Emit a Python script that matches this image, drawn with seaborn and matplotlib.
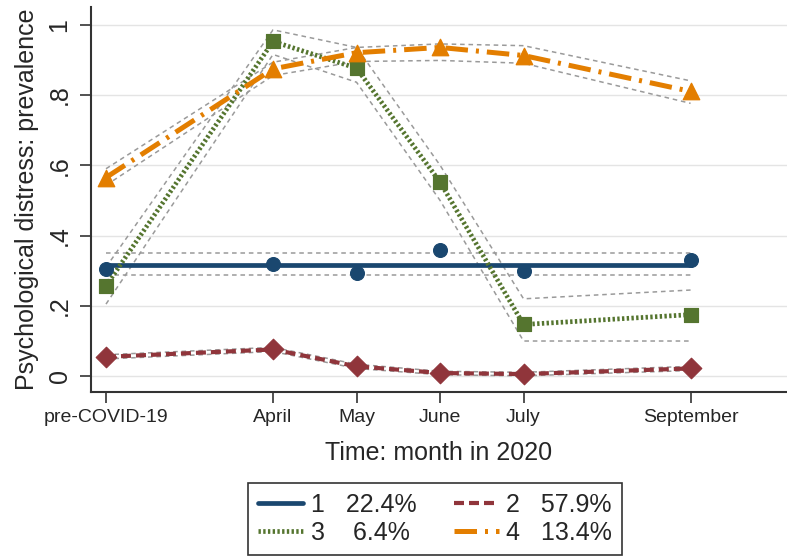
import matplotlib
matplotlib.use("Agg")
import matplotlib.pyplot as plt
import seaborn as sns
import pandas as pd
from matplotlib.lines import Line2D

# ---- data ----
months = ["pre-COVID-19", "April", "May", "June", "July", "September"]
month_pos = [2, 4, 5, 6, 7, 9]

c1_obs = [0.306, 0.318, 0.293, 0.360, 0.298, 0.331]
c1_fit = [0.317, 0.317, 0.317, 0.317, 0.317, 0.317]
c1_lo = [0.287, 0.287, 0.287, 0.287, 0.287, 0.287]
c1_hi = [0.349, 0.349, 0.349, 0.349, 0.349, 0.349]

c2 = [0.055, 0.076, 0.028, 0.009, 0.006, 0.022]
c2_lo = [0.049, 0.070, 0.022, 0.004, 0.001, 0.016]
c2_hi = [0.061, 0.082, 0.034, 0.014, 0.011, 0.028]

c3 = [0.257, 0.952, 0.876, 0.552, 0.147, 0.175]
c3_lo = [0.205, 0.915, 0.836, 0.500, 0.100, 0.100]
c3_hi = [0.310, 0.985, 0.935, 0.600, 0.220, 0.245]

c4 = [0.565, 0.874, 0.920, 0.935, 0.912, 0.810]
c4_lo = [0.543, 0.855, 0.895, 0.898, 0.890, 0.776]
c4_hi = [0.590, 0.893, 0.935, 0.945, 0.940, 0.840]

legend_labels = ["1   22.4%", "2   57.9%", "3    6.4%", "4   13.4%"]
y_ticks = [0, 0.2, 0.4, 0.6, 0.8, 1.0]
y_ticklabels = ["0", ".2", ".4", ".6", ".8", "1"]

# ---- style ----
sns.set_theme(style="white")
plt.rcParams["font.family"] = ["Liberation Sans", "DejaVu Sans"]

navy = "#1a476f"
maroon = "#90353b"
green = "#55752f"
orange = "#e37e00"
gray = "#9a9a9a"

fig = plt.figure(figsize=(7.87, 5.60), dpi=100)
ax = fig.add_axes([0.1156, 0.30, 0.9995 - 0.1156, 0.6875])

ci_style = dict(color=gray, linewidth=1.1, linestyle=(0, (3, 2.5)), errorbar=None, zorder=2)

def ci(lo, hi):
    sns.lineplot(x=month_pos, y=lo, ax=ax, **ci_style)
    sns.lineplot(x=month_pos, y=hi, ax=ax, **ci_style)

red_ls = (0, (2.4, 1.2))
green_ls = (0, (0.5, 0.5))
orange_ls = (0, (4.5, 1.6, 0.6, 1.6))

# class 1
ci(c1_lo, c1_hi)
sns.lineplot(x=month_pos, y=c1_fit, ax=ax, color=navy, linewidth=3.4, errorbar=None, zorder=4)
sns.scatterplot(x=month_pos, y=c1_obs, ax=ax, color=navy, marker="o", s=100, edgecolor=navy, zorder=5)

# class 2
ci(c2_lo, c2_hi)
sns.lineplot(x=month_pos, y=c2, ax=ax, color=maroon, linewidth=3.0,
             linestyle=red_ls, errorbar=None, zorder=4)
sns.scatterplot(x=month_pos, y=c2, ax=ax, color=maroon, marker="D", s=110, edgecolor=maroon, zorder=5)

# class 3
ci(c3_lo, c3_hi)
sns.lineplot(x=month_pos, y=c3, ax=ax, color=green, linewidth=3.4,
             linestyle=green_ls, errorbar=None, zorder=4)
sns.scatterplot(x=month_pos, y=c3, ax=ax, color=green, marker="s", s=110, edgecolor=green, zorder=5)

# class 4
ci(c4_lo, c4_hi)
sns.lineplot(x=month_pos, y=c4, ax=ax, color=orange, linewidth=3.6,
             linestyle=orange_ls, errorbar=None, zorder=4)
sns.scatterplot(x=month_pos, y=c4, ax=ax, color=orange, marker="^", s=140, edgecolor=orange, zorder=5)

# ---- axes ----
ax.set_xlim(1.82, 10.15)
ax.set_ylim(-0.045, 1.05)
ax.set_xticks(month_pos)
ax.set_xticklabels(months, fontsize=14)
ax.set_yticks(y_ticks)
ax.set_yticklabels(y_ticklabels, fontsize=18, rotation=90, va="center")
ax.yaxis.grid(True, color="#e4e4e4", linewidth=1.0)
ax.xaxis.grid(False)
ax.set_axisbelow(True)
for s in ["top", "right"]:
    ax.spines[s].set_visible(False)
for s in ["left", "bottom"]:
    ax.spines[s].set_color("#333333")
    ax.spines[s].set_linewidth(1.5)
ax.tick_params(axis="both", which="both", direction="out", length=8, width=1.2,
               color="#333333", left=True, bottom=True)
ax.tick_params(axis="x", pad=4)
ax.tick_params(axis="y", pad=6)
ax.set_xlabel("Time: month in 2020", fontsize=18, labelpad=11)
ax.set_ylabel("Psychological distress: prevalence", fontsize=18, labelpad=6)

# ---- legend ----
h1 = Line2D([], [], color=navy, linewidth=3.4)
h2 = Line2D([], [], color=maroon, linewidth=3.0, linestyle=red_ls)
h3 = Line2D([], [], color=green, linewidth=3.4, linestyle=green_ls)
h4 = Line2D([], [], color=orange, linewidth=3.6, linestyle=orange_ls)
handles = [h1, h3, h2, h4]
labels = [legend_labels[0], legend_labels[2], legend_labels[1], legend_labels[3]]
leg = fig.legend(handles, labels, loc="upper center", bbox_to_anchor=(0.553, 0.16),
                 ncol=2, fontsize=18, frameon=True, fancybox=False, framealpha=1,
                 edgecolor="#333333", handlelength=1.8, columnspacing=1.5,
                 handletextpad=0.3, labelspacing=0.15, borderpad=0.4)
leg.get_frame().set_linewidth(1.2)

fig.savefig("out.png", dpi=100)
